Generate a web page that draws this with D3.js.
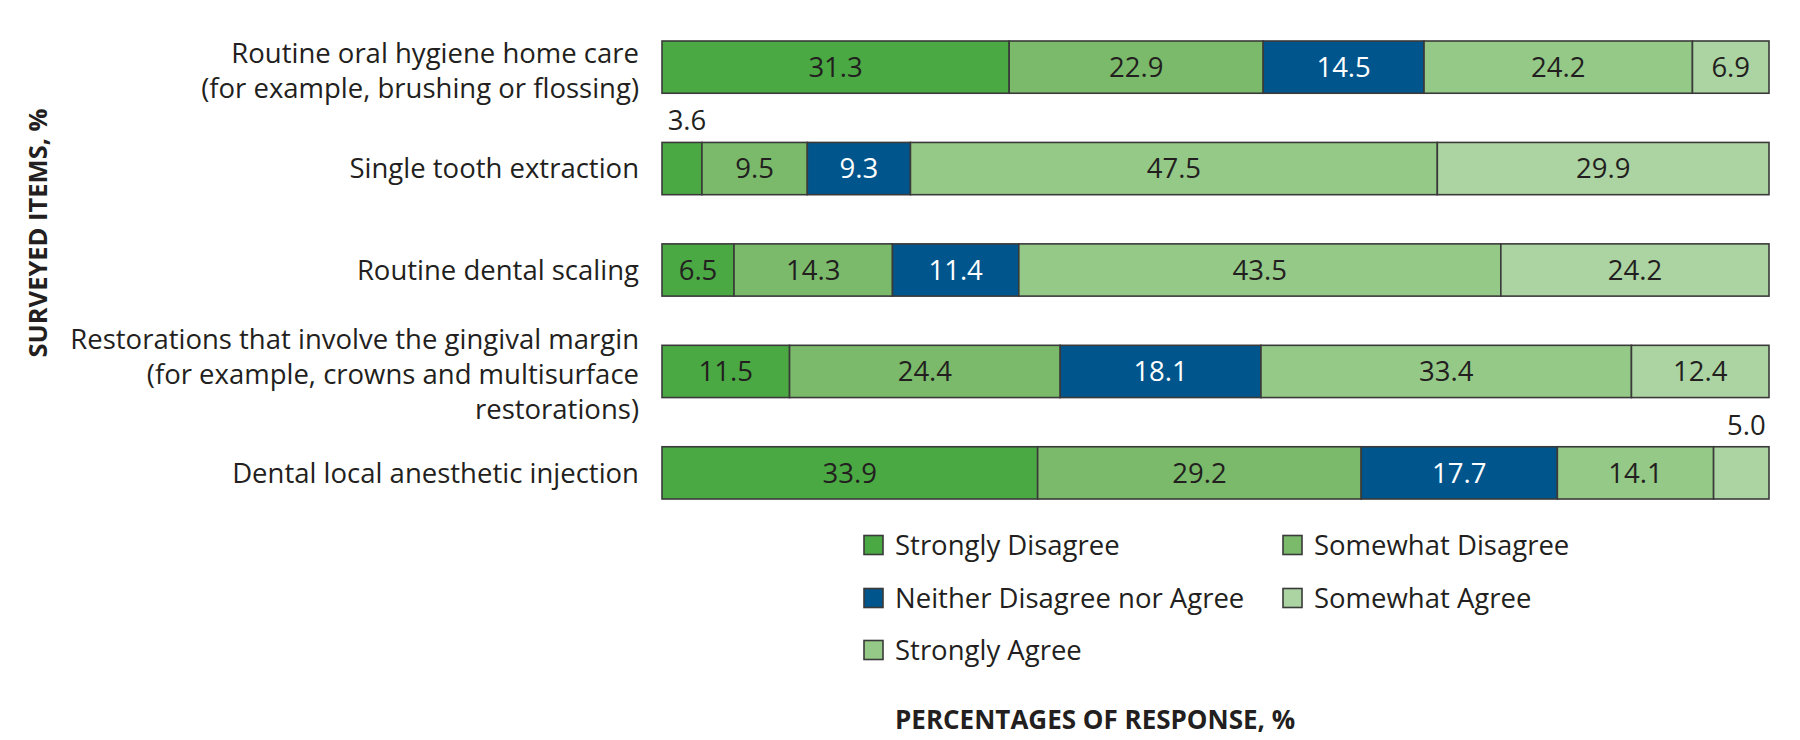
<!DOCTYPE html>
<html>
<head>
<meta charset="utf-8">
<script src="https://cdn.jsdelivr.net/npm/d3@7/dist/d3.min.js"></script>
<style>
  html, body { margin: 0; padding: 0; background: #ffffff; }
  svg { display: block; }
  text { font-family: "Open Sans", "Noto Sans", sans-serif; fill: #231f20; }
</style>
</head>
<body>
<svg id="chart" width="1800" height="740"></svg>
<script>
// ---- data ----
const categories = [
  "Routine oral hygiene home care|(for example, brushing or flossing)",
  "Single tooth extraction",
  "Routine dental scaling",
  "Restorations that involve the gingival margin|(for example, crowns and multisurface|restorations)",
  "Dental local anesthetic injection"
];
const seriesNames = ["Strongly Disagree", "Somewhat Disagree", "Neither Disagree nor Agree", "Somewhat Agree", "Strongly Agree"];
const stronglyDisagree = [31.3, 3.6, 6.5, 11.5, 33.9];
const somewhatDisagree = [22.9, 9.5, 14.3, 24.4, 29.2];
const neitherDisagreeNorAgree = [14.5, 9.3, 11.4, 18.1, 17.7];
const somewhatAgree = [24.2, 47.5, 43.5, 33.4, 14.1];
const stronglyAgree = [6.9, 29.9, 24.2, 12.4, 5.0];
const legendOrder = ["Strongly Disagree", "Somewhat Disagree", "Neither Disagree nor Agree", "Somewhat Agree", "Strongly Agree"];
const yAxisTitle = "SURVEYED ITEMS, %";
const xAxisTitle = "PERCENTAGES OF RESPONSE, %";

// ---- styles ----
const barColors = ["#4aa943", "#7aba6a", "#00558c", "#95c987", "#acd4a2"];
const legendColors = ["#4aa943", "#7aba6a", "#00558c", "#acd4a2", "#95c987"];
const strokeColor = "#3a3a3a";
const bodySize = "27.5px";

const seriesArrays = [stronglyDisagree, somewhatDisagree, neitherDisagreeNorAgree, somewhatAgree, stronglyAgree];
const rows = categories.map((c, i) => {
  const r = { cat: c };
  seriesNames.forEach((s, j) => { r[s] = seriesArrays[j][i]; });
  return r;
});

const svg = d3.select("#chart");
const x = d3.scaleLinear().domain([0, 1]).range([662, 1769]);
const y = d3.scaleBand().domain(categories).range([41, 499]).paddingInner(0.485).paddingOuter(0);
const color = d3.scaleOrdinal().domain(seriesNames).range(barColors);

const stack = d3.stack().keys(seriesNames).offset(d3.stackOffsetExpand);
const stacked = stack(rows);

const g = svg.append("g");
const layers = g.selectAll("g.layer").data(stacked).join("g").attr("class", "layer")
  .attr("fill", d => color(d.key));

layers.selectAll("rect").data(d => d.map(v => Object.assign(v, { key: d.key }))).join("rect")
  .attr("x", d => x(d[0]))
  .attr("y", d => y(d.data.cat))
  .attr("width", d => x(d[1]) - x(d[0]))
  .attr("height", y.bandwidth())
  .attr("stroke", strokeColor)
  .attr("stroke-width", 1.6);

// value labels
const small = v => v < 6;
layers.selectAll("text").data(d => d).join("text")
  .attr("x", d => (x(d[0]) + x(d[1])) / 2 + (small(d.data[d.key]) ? 5 : 0))
  .attr("y", d => small(d.data[d.key]) ? y(d.data.cat) - 12 : y(d.data.cat) + y.bandwidth() / 2)
  .attr("dy", d => small(d.data[d.key]) ? "0" : "0.36em")
  .attr("text-anchor", "middle")
  .style("font-size", bodySize)
  .style("fill", d => (d.key === "Neither Disagree nor Agree" && !small(d.data[d.key])) ? "#ffffff" : "#231f20")
  .text(d => d3.format(".1f")(d.data[d.key]));

// category labels
const lineH = 35;
svg.append("g").selectAll("text").data(categories).join("text")
  .attr("text-anchor", "end")
  .style("font-size", bodySize)
  .each(function (c) {
    const lines = c.split("|");
    const cy = y(c) + y.bandwidth() / 2 + (lines.length > 1 ? 3 : 0);
    const t = d3.select(this);
    lines.forEach((ln, k) => {
      t.append("tspan")
        .attr("x", 639)
        .attr("y", cy + (k - (lines.length - 1) / 2) * lineH)
        .attr("dy", "0.36em")
        .text(ln);
    });
  });

// y axis title
svg.append("text")
  .attr("transform", "translate(38,233) rotate(-90)")
  .attr("text-anchor", "middle")
  .attr("dy", "0.36em")
  .style("font-size", "25.5px")
  .style("font-weight", "bold")
  .text(yAxisTitle);

// x axis title
svg.append("text")
  .attr("x", 895)
  .attr("y", 720)
  .attr("dy", "0.36em")
  .style("font-size", "26px")
  .style("font-weight", "bold")
  .text(xAxisTitle);

// legend
const legendPos = [
  { x: 864, y: 545 }, { x: 1283, y: 545 },
  { x: 864, y: 598 }, { x: 1283, y: 598 },
  { x: 864, y: 650 }
];
const lg = svg.append("g").selectAll("g").data(legendOrder).join("g")
  .attr("transform", (d, i) => `translate(${legendPos[i].x},${legendPos[i].y})`);
lg.append("rect")
  .attr("x", 0).attr("y", -9.5).attr("width", 19).attr("height", 19)
  .attr("fill", (d, i) => legendColors[i])
  .attr("stroke", strokeColor).attr("stroke-width", 1.6);
lg.append("text")
  .attr("x", 31).attr("y", 0).attr("dy", "0.36em")
  .style("font-size", bodySize)
  .text(d => d);
</script>
</body>
</html>
